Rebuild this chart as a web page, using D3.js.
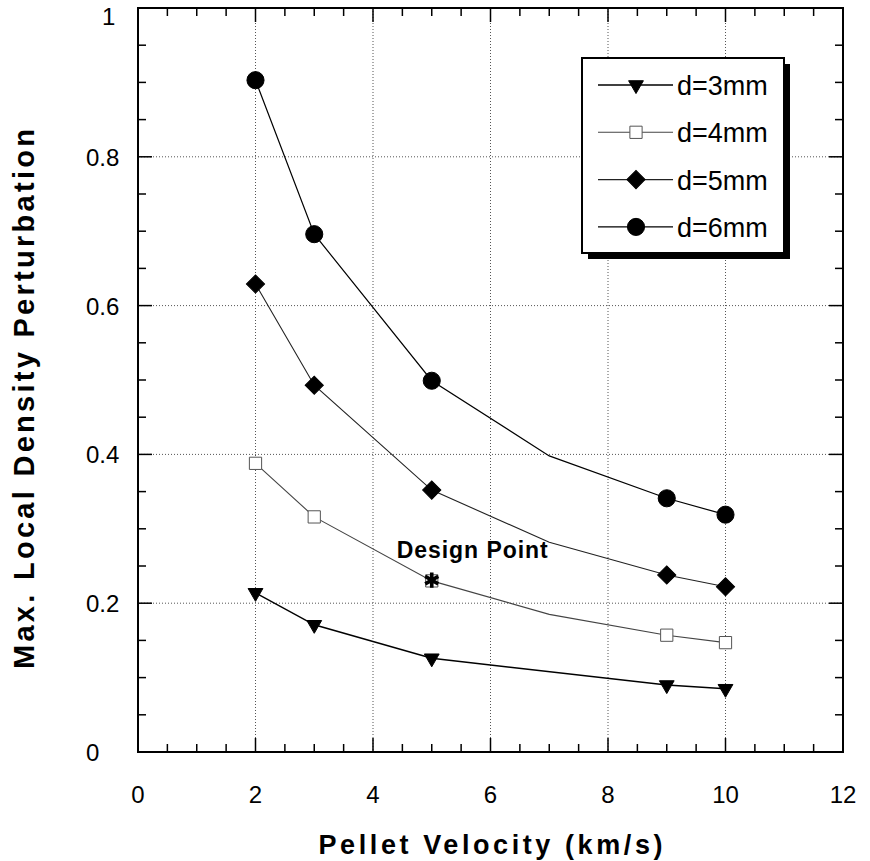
<!DOCTYPE html>
<html>
<head>
<meta charset="utf-8">
<script src="https://cdn.jsdelivr.net/npm/d3@7"></script>
<style>
body { margin: 0; background: #fff; }
svg text { font-family: "Liberation Sans", Arial, Helvetica, sans-serif; fill: #000; }
.tick-label { font-size: 24px; }
.axis-title { font-weight: bold; }
.legend-text { font-size: 27px; }
.note { font-size: 23px; font-weight: bold; }
</style>
</head>
<body>
<svg id="chart" width="870" height="861"></svg>
<script>
// pellet velocity (km/s); 7 km/s is a line-only point
var velocities = [2, 3, 5, 7, 9, 10];
var markedVelocities = [2, 3, 5, 9, 10];
var d3mm = [0.214, 0.171, 0.126, null, 0.090, 0.085];
var d4mm = [0.388, 0.316, 0.230, 0.185, 0.157, 0.147];
var d5mm = [0.629, 0.493, 0.352, 0.282, 0.238, 0.222];
var d6mm = [0.903, 0.696, 0.499, 0.398, 0.341, 0.319];
var seriesNames = ["d=3mm", "d=4mm", "d=5mm", "d=6mm"];
var xTicks = [0, 2, 4, 6, 8, 10, 12];
var yTicks = [0, 0.2, 0.4, 0.6, 0.8, 1];
var designPoint = [5, 0.231];
var designLabel = "Design  Point";

var margin = { top: 8, right: 27, bottom: 109, left: 138 };
var width = 870 - margin.left - margin.right;
var height = 861 - margin.top - margin.bottom;

var svg = d3.select("#chart")
    .append("g")
    .attr("transform", "translate(" + margin.left + "," + margin.top + ")");

var xScale = d3.scaleLinear().domain([0, 12]).range([0, width]);
var yScale = d3.scaleLinear().domain([0, 1]).range([height, 0]);

var styles = [
    { data: d3mm, symbol: d3.symbolTriangle, size: 95, rotate: 180, fill: "#000", stroke: "#000", line: "#000", lw: 1.4 },
    { data: d4mm, symbol: d3.symbolSquare, size: 150, rotate: 0, fill: "#fff", stroke: "#555", line: "#444", lw: 1.1 },
    { data: d5mm, symbol: d3.symbolSquare, size: 165, rotate: 45, fill: "#000", stroke: "#000", line: "#222", lw: 1.1 },
    { data: d6mm, symbol: d3.symbolCircle, size: 230, rotate: 0, fill: "#000", stroke: "#000", line: "#000", lw: 1.2 }
];

// grid
svg.append("g").selectAll("line")
    .data(xTicks.filter(function(d) { return d > 0 && d < 12; }))
    .enter().append("line")
    .attr("x1", function(d) { return xScale(d); })
    .attr("x2", function(d) { return xScale(d); })
    .attr("y1", 0).attr("y2", height)
    .attr("stroke", "#555").attr("stroke-width", 1).attr("stroke-dasharray", "1,2");
svg.append("g").selectAll("line")
    .data(yTicks.filter(function(d) { return d > 0 && d < 1; }))
    .enter().append("line")
    .attr("y1", function(d) { return yScale(d); })
    .attr("y2", function(d) { return yScale(d); })
    .attr("x1", 0).attr("x2", width)
    .attr("stroke", "#555").attr("stroke-width", 1).attr("stroke-dasharray", "1,2");

// inside ticks on all four sides
var xMinor = d3.range(0, 12.01, 0.5);
var yMinor = d3.range(0, 1.001, 0.05);
function isMajorX(d) { return Math.abs(d / 2 - Math.round(d / 2)) < 1e-6; }
function isMajorY(d) { return Math.abs(d / 0.2 - Math.round(d / 0.2)) < 1e-6; }
var ticks = svg.append("g").attr("stroke", "#000").attr("stroke-width", 1.5);
xMinor.forEach(function(d) {
    var len = isMajorX(d) ? 14 : 8;
    ticks.append("line").attr("x1", xScale(d)).attr("x2", xScale(d)).attr("y1", height).attr("y2", height - len);
    ticks.append("line").attr("x1", xScale(d)).attr("x2", xScale(d)).attr("y1", 0).attr("y2", len);
});
yMinor.forEach(function(d) {
    var len = isMajorY(d) ? 14 : 8;
    ticks.append("line").attr("y1", yScale(d)).attr("y2", yScale(d)).attr("x1", 0).attr("x2", len);
    ticks.append("line").attr("y1", yScale(d)).attr("y2", yScale(d)).attr("x1", width).attr("x2", width - len);
});

svg.append("rect")
    .attr("width", width).attr("height", height)
    .attr("fill", "none").attr("stroke", "#000").attr("stroke-width", 2);

// tick labels
svg.append("g").selectAll("text")
    .data(xTicks).enter().append("text")
    .attr("class", "tick-label")
    .attr("x", function(d) { return xScale(d); })
    .attr("y", height + 51)
    .attr("text-anchor", "middle")
    .text(function(d) { return d; });
svg.append("g").selectAll("text")
    .data(yTicks).enter().append("text")
    .attr("class", "tick-label")
    .attr("x", function(d) { return d === 1 ? -36 : -52; })
    .attr("y", function(d) { return yScale(d) + (d === 1 ? 17 : 9); })
    .attr("text-anchor", "start")
    .text(function(d) { return d; });

// axis titles
svg.append("text")
    .attr("class", "axis-title")
    .attr("font-size", 27)
    .attr("x", width / 2).attr("y", height + 102)
    .attr("text-anchor", "middle")
    .attr("textLength", 344).attr("lengthAdjust", "spacing")
    .text("Pellet  Velocity  (km/s)");
svg.append("text")
    .attr("class", "axis-title")
    .attr("font-size", 29)
    .attr("transform", "translate(" + (34 - margin.left) + "," + (399 - margin.top) + ") rotate(-90)")
    .attr("text-anchor", "middle")
    .attr("textLength", 540).attr("lengthAdjust", "spacing")
    .text("Max.  Local  Density  Perturbation");

// series lines and markers
var line = d3.line()
    .x(function(d) { return xScale(d.v); })
    .y(function(d) { return yScale(d.y); });

styles.forEach(function(s) {
    var pts = velocities.map(function(v, i) { return { v: v, y: s.data[i] }; })
        .filter(function(d) { return d.y !== null; });
    svg.append("path")
        .datum(pts)
        .attr("d", line)
        .attr("fill", "none")
        .attr("stroke", s.line)
        .attr("stroke-width", s.lw);
    svg.append("g").selectAll("path")
        .data(pts.filter(function(d) { return markedVelocities.indexOf(d.v) >= 0; }))
        .enter().append("path")
        .attr("d", d3.symbol().type(s.symbol).size(s.size))
        .attr("transform", function(d) {
            return "translate(" + xScale(d.v) + "," + yScale(d.y) + ") rotate(" + s.rotate + ")";
        })
        .attr("fill", s.fill)
        .attr("stroke", s.stroke)
        .attr("stroke-width", 1);
});

// design point
svg.append("path")
    .attr("d", d3.symbol().type(d3.symbolAsterisk).size(160))
    .attr("transform", "translate(" + xScale(designPoint[0]) + "," + yScale(designPoint[1]) + ")")
    .attr("fill", "none").attr("stroke", "#000").attr("stroke-width", 3.6);
svg.append("text")
    .attr("class", "note")
    .attr("x", xScale(designPoint[0]) - 35)
    .attr("y", yScale(designPoint[1]) - 22)
    .attr("textLength", 151).attr("lengthAdjust", "spacing")
    .text(designLabel);

// legend
var legendX = 582 - margin.left, legendY = 58 - margin.top, legendW = 202, legendH = 195;
var legend = svg.append("g").attr("transform", "translate(" + legendX + "," + legendY + ")");
legend.append("rect")
    .attr("x", 6).attr("y", 6).attr("width", legendW).attr("height", legendH)
    .attr("fill", "#000");
legend.append("rect")
    .attr("width", legendW).attr("height", legendH)
    .attr("fill", "#fff").attr("stroke", "#000").attr("stroke-width", 2);
seriesNames.forEach(function(name, i) {
    var s = styles[i];
    var item = legend.append("g").attr("transform", "translate(0," + (27 + i * 47.3) + ")");
    item.append("line")
        .attr("x1", 16).attr("x2", 91).attr("y1", 0).attr("y2", 0)
        .attr("stroke", s.line).attr("stroke-width", s.lw);
    item.append("path")
        .attr("d", d3.symbol().type(s.symbol).size(s.size))
        .attr("transform", "translate(54,0) rotate(" + s.rotate + ")")
        .attr("fill", s.fill).attr("stroke", s.stroke).attr("stroke-width", 1);
    item.append("text")
        .attr("class", "legend-text")
        .attr("x", 95).attr("y", 10)
        .text(name);
});
</script>
</body>
</html>
